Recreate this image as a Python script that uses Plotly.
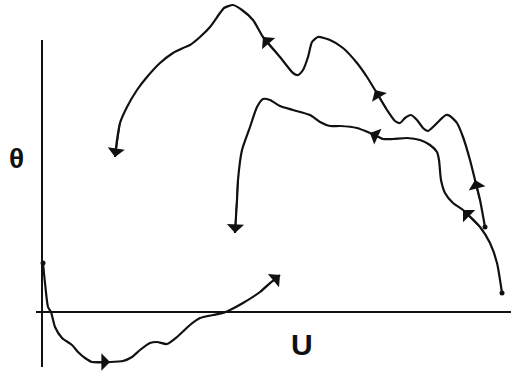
import plotly.graph_objects as go

# Coordinates: U to the right of the θ axis, θ above the U axis
# Curve A: lower trajectory (starts on θ axis, dips below U axis)
a_u = [1, 3, 6, 9, 13, 20, 30, 36, 43, 50, 68, 81, 90, 98, 108, 115, 125, 135, 148, 158, 171, 181, 188, 201, 218, 228, 238]
a_t = [49, 29, 5, 0, -15, -26, -33, -40, -46, -50, -50, -49, -45, -38, -31, -30, -32, -25, -13, -6, -3, -1, 2, 9, 20, 29, 37]
a_arrows = [10]

# Curve B: upper trajectory (starts at right dot, climbs over the peaks)
b_u = [443, 438, 433, 428, 421, 415, 408, 404, 398, 391, 386, 381, 375, 369, 363, 358, 353, 345, 333, 325, 315, 301, 288, 276, 270, 266, 261, 256, 251, 238, 221, 211, 200, 191, 182, 178, 168, 158, 148, 141, 131, 118, 105, 95, 85, 78, 75, 73]
b_t = [85, 112, 132, 152, 175, 189, 196, 197, 192, 185, 181, 184, 192, 197, 194, 189, 191, 202, 222, 235, 249, 264, 272, 275, 270, 255, 242, 237, 239, 255, 275, 292, 302, 307, 304, 299, 285, 275, 267, 264, 259, 249, 235, 222, 205, 189, 172, 155]
b_arrows = [2, 18, 30]

# Curve C: inner trajectory (starts at lower right dot)
c_u = [460, 455, 448, 438, 421, 411, 403, 399, 397, 395, 388, 378, 365, 351, 341, 328, 315, 298, 288, 278, 268, 251, 238, 228, 221, 215, 208, 200, 196, 195, 193]
c_t = [19, 49, 69, 85, 102, 109, 119, 132, 152, 160, 167, 172, 174, 173, 173, 179, 184, 186, 186, 190, 197, 202, 206, 212, 213, 205, 185, 162, 132, 112, 79]
c_arrows = [4, 15]

axis_labels = ["θ", "U"]

fig = go.Figure()
LINE = dict(color="#111111", width=2.2, shape="spline", smoothing=0.6)
for u, t in [(a_u, a_t), (b_u, b_t), (c_u, c_t)]:
    fig.add_trace(go.Scatter(x=u, y=t, mode="lines", line=LINE, hoverinfo="skip", cliponaxis=False))

# start dots
fig.add_trace(go.Scatter(x=[a_u[0], b_u[0], c_u[0]], y=[a_t[0], b_t[0], c_t[0]], mode="markers",
                         marker=dict(color="#111111", size=5), hoverinfo="skip", cliponaxis=False))

def arrow(u, t, i, j):
    fig.add_annotation(x=u[i], y=t[i], ax=u[j], ay=t[j], xref="x", yref="y", axref="x", ayref="y",
                       text="", showarrow=True, arrowhead=1, arrowsize=1.8, arrowwidth=1.6,
                       arrowcolor="#111111", standoff=0)

for u, t, idx in [(a_u, a_t, a_arrows), (b_u, b_t, b_arrows), (c_u, c_t, c_arrows)]:
    for i in idx:
        arrow(u, t, i, i - 1)
    arrow(u, t, len(u) - 1, len(u) - 3)

# axes lines
fig.add_shape(type="line", x0=0, x1=0, y0=-55, y1=272, line=dict(color="#111111", width=2))
fig.add_shape(type="line", x0=-6, x1=475, y0=0, y1=0, line=dict(color="#111111", width=2))

fig.add_annotation(x=-26, y=154, text="<b>" + axis_labels[0] + "</b>", showarrow=False,
                   font=dict(family="Liberation Sans, Arial", size=28, color="#111111"))
fig.add_annotation(x=260, y=-32, text="<b>" + axis_labels[1] + "</b>", showarrow=False,
                   font=dict(family="Liberation Sans, Arial", size=30, color="#111111"))

fig.update_layout(width=511, height=372, margin=dict(l=0, r=0, t=0, b=0),
                  paper_bgcolor="white", plot_bgcolor="white", showlegend=False,
                  xaxis=dict(range=[-42, 469], visible=False, fixedrange=True),
                  yaxis=dict(range=[-60, 312], visible=False, fixedrange=True))
fig.write_html("out.html", config={"displayModeBar": False},
               post_script="document.body.style.margin='0';document.body.style.overflow='hidden';")
